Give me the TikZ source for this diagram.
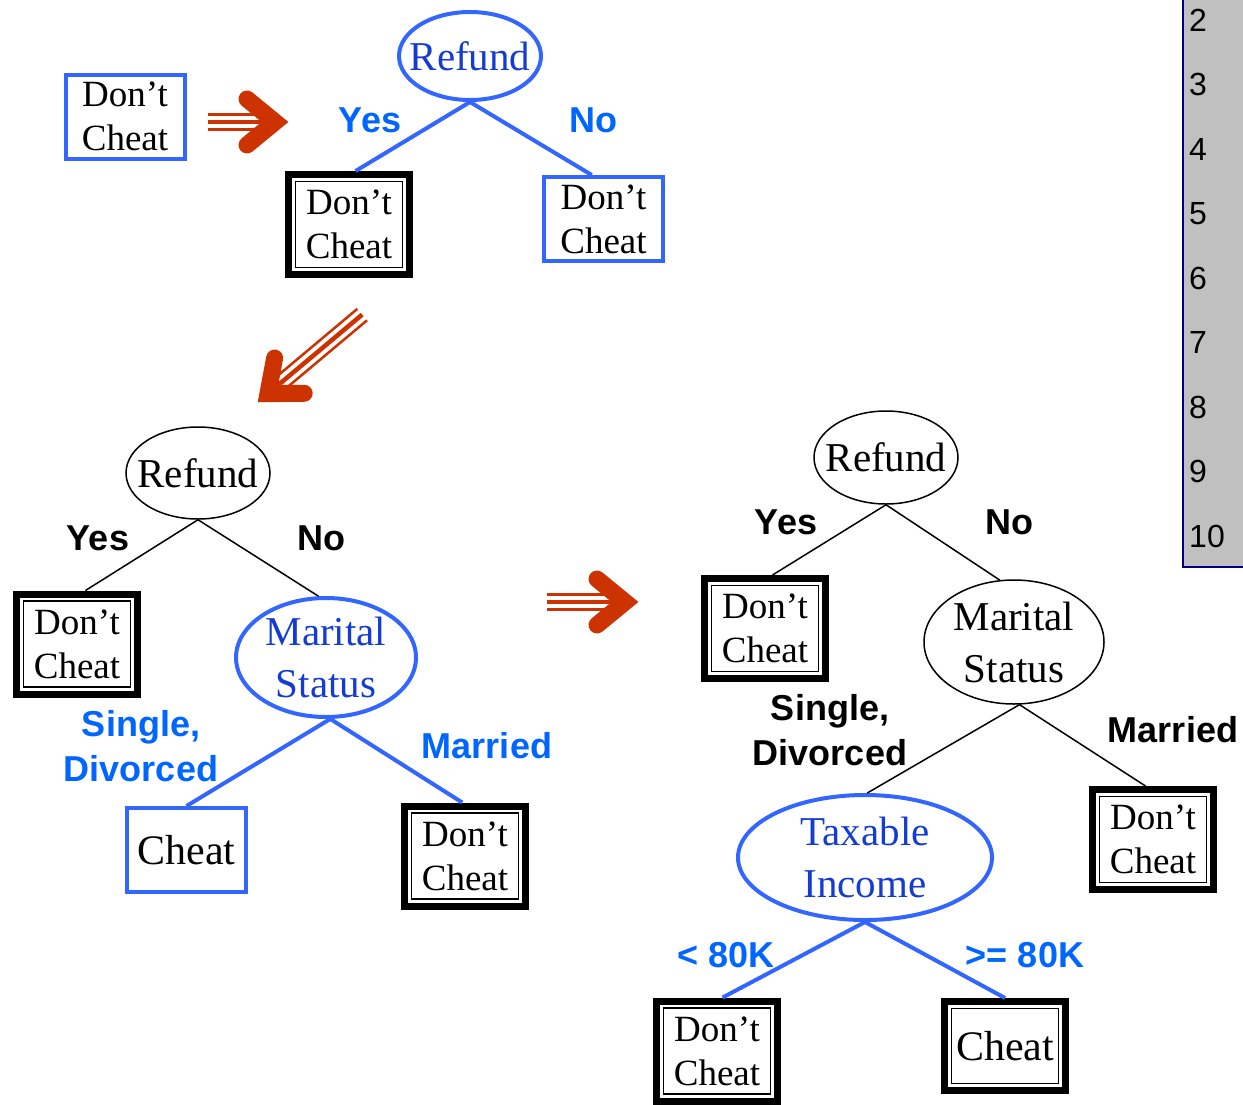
\documentclass[tikz,border=0pt]{standalone}
\usepackage{fontspec}
\setmainfont{Liberation Serif}
\setsansfont{Liberation Sans}
\usetikzlibrary{shapes.geometric}

\definecolor{treeblue}{RGB}{51,102,255}
\definecolor{labelblue}{RGB}{0,102,255}
\definecolor{ovalblue}{RGB}{20,60,210}
\definecolor{arrowred}{RGB}{204,51,0}
\definecolor{stripgray}{RGB}{192,192,192}
\definecolor{stripnavy}{RGB}{0,0,128}

\tikzset{
  leafbox/.style={draw, line width=7, minimum width=121, minimum height=#1, inner sep=0,
    align=center, font=\fontsize{37}{44}\selectfont,
    path picture={\draw[line width=1.5] (path picture bounding box.center)
      +(-53.5pt,{(7-#1/2)*1pt}) rectangle +(53.5pt,{(#1/2-7)*1pt});}},
  leafbox/.default=100,
  bluebox/.style={draw=treeblue, line width=4, minimum width=119, minimum height=84,
    inner sep=0, align=center, font=\fontsize{37}{44}\selectfont},
  blackoval/.style={ellipse, draw, line width=1.5, inner sep=0},
  blueoval/.style={ellipse, draw=treeblue, line width=4, inner sep=0},
  ovaltext/.style={align=center, inner sep=0, font=\fontsize{41}{52}\selectfont},
  lab/.style={align=center, inner sep=0, font=\sffamily\bfseries\fontsize{36}{45}\selectfont},
  bedge/.style={line width=1.5},
  uedge/.style={treeblue, line width=4},
  pics/fatarrow/.style={code={
    \draw[arrowred, line width=2.5] (-#1,-7.5) -- (-18,-7.5);
    \draw[arrowred, line width=4.5] (-#1,0) -- (-14,0);
    \draw[arrowred, line width=2.5] (-#1,7.5) -- (-18,7.5);
    \draw[arrowred, line width=17, line cap=round, line join=miter] (-41,-23) -- (-13,0) -- (-41,23);
  }},
}

\begin{document}
\begin{tikzpicture}[x=1pt,y=1pt,yscale=-1]
\useasboundingbox (0,0) rectangle (1243,1104);

% row numbers
\fill[stripgray] (1182,0) rectangle (1243,568);
\draw[stripnavy, line width=2] (1183,0) -- (1183,567) -- (1243,567);
\foreach \n [count=\i from 0] in {2,...,10}
  \node[anchor=west, inner sep=0, font=\sffamily\fontsize{32}{36}\selectfont] (row\n) at (1189,20+64.5*\i) {\n};

% first tree
\node[bluebox] (d0) at (125,116.5) {Don’t\\Cheat};
\pic at (288,122) {fatarrow=80};
\node[blueoval, minimum width=142, minimum height=88] (r1) at (470,56) {};
\node[ovaltext, text=ovalblue] (r1t) at (r1) {Refund};
\node[leafbox] (l1) at (349,224.5) {Don’t\\Cheat};
\node[bluebox] (b1) at (603.5,219) {Don’t\\Cheat};
\node[lab, text=labelblue] (y1) at (370,120) {Yes};
\node[lab, text=labelblue] (n1) at (593,120) {No};
\draw[uedge] (r1.south) -- (l1.83);
\draw[uedge] (r1.south) -- (b1.105);

\pic[rotate=-140] at (258,402) {fatarrow=136};

% second tree
\node[blackoval, minimum width=144, minimum height=92] (r2) at (198,473) {};
\node[ovaltext] (r2t) at (r2) {Refund};
\node[lab] (y2) at (98,538) {Yes};
\node[lab] (n2) at (321,538) {No};
\node[leafbox] (l2) at (77,644) {Don’t\\Cheat};
\node[blueoval, minimum width=180, minimum height=119] (m2) at (326,657.5) {};
\node[ovaltext, text=ovalblue] (m2t) at (m2) {Marital\\Status};
\node[lab, text=labelblue] (s2) at (141,746) {Single,\\Divorced};
\node[lab, text=labelblue] (w2) at (487,746) {Married};
\node[bluebox, font=\fontsize{42}{48}\selectfont] (c2) at (186.5,850) {Cheat};
\node[leafbox] (d2) at (465,856) {Don’t\\Cheat};
\draw[bedge] (r2.south) -- (l2.81);
\draw[bedge] (r2.south) -- (m2.97);
\draw[uedge] (m2.-86) -- (c2.north);
\draw[uedge] (m2.-86) -- (d2.93);

\pic at (638,602) {fatarrow=91};

% third tree
\node[blackoval, minimum width=144, minimum height=93] (r3) at (886,457.5) {};
\node[ovaltext] (r3t) at (r3) {Refund};
\node[lab] (y3) at (786,522) {Yes};
\node[lab] (n3) at (1009,522) {No};
\node[leafbox] (l3) at (765,628.5) {Don’t\\Cheat};
\node[blackoval, minimum width=180, minimum height=124] (m3) at (1014,642) {};
\node[ovaltext] (m3t) at (m3) {Marital\\Status};
\node[lab] (s3) at (830,730) {Single,\\Divorced};
\node[lab] (w3) at (1173,730) {Married};
\node[blueoval, minimum width=254, minimum height=125] (t3) at (865,857.5) {};
\node[ovaltext, text=ovalblue] (t3t) at (t3) {Taxable\\Income};
\node[leafbox] (d3) at (1153,839.5) {Don’t\\Cheat};
\node[lab, text=labelblue] (lo3) at (726,955) {< 80K};
\node[lab, text=labelblue] (hi3) at (1025,955) {>= 80K};
\node[leafbox] (e3) at (717,1051) {Don’t\\Cheat};
\node[leafbox=89, font=\fontsize{42}{48}\selectfont] (c3) at (1005,1046) {Cheat};
\draw[bedge] (r3.south) -- (l3.82);
\draw[bedge] (r3.south) -- (m3.103);
\draw[bedge] (m3.-85) -- (t3.88);
\draw[bedge] (m3.-85) -- (d3.98);
\draw[uedge] (t3.south) -- (e3.84);
\draw[uedge] (t3.south) -- (c3.north);
\end{tikzpicture}
\end{document}
